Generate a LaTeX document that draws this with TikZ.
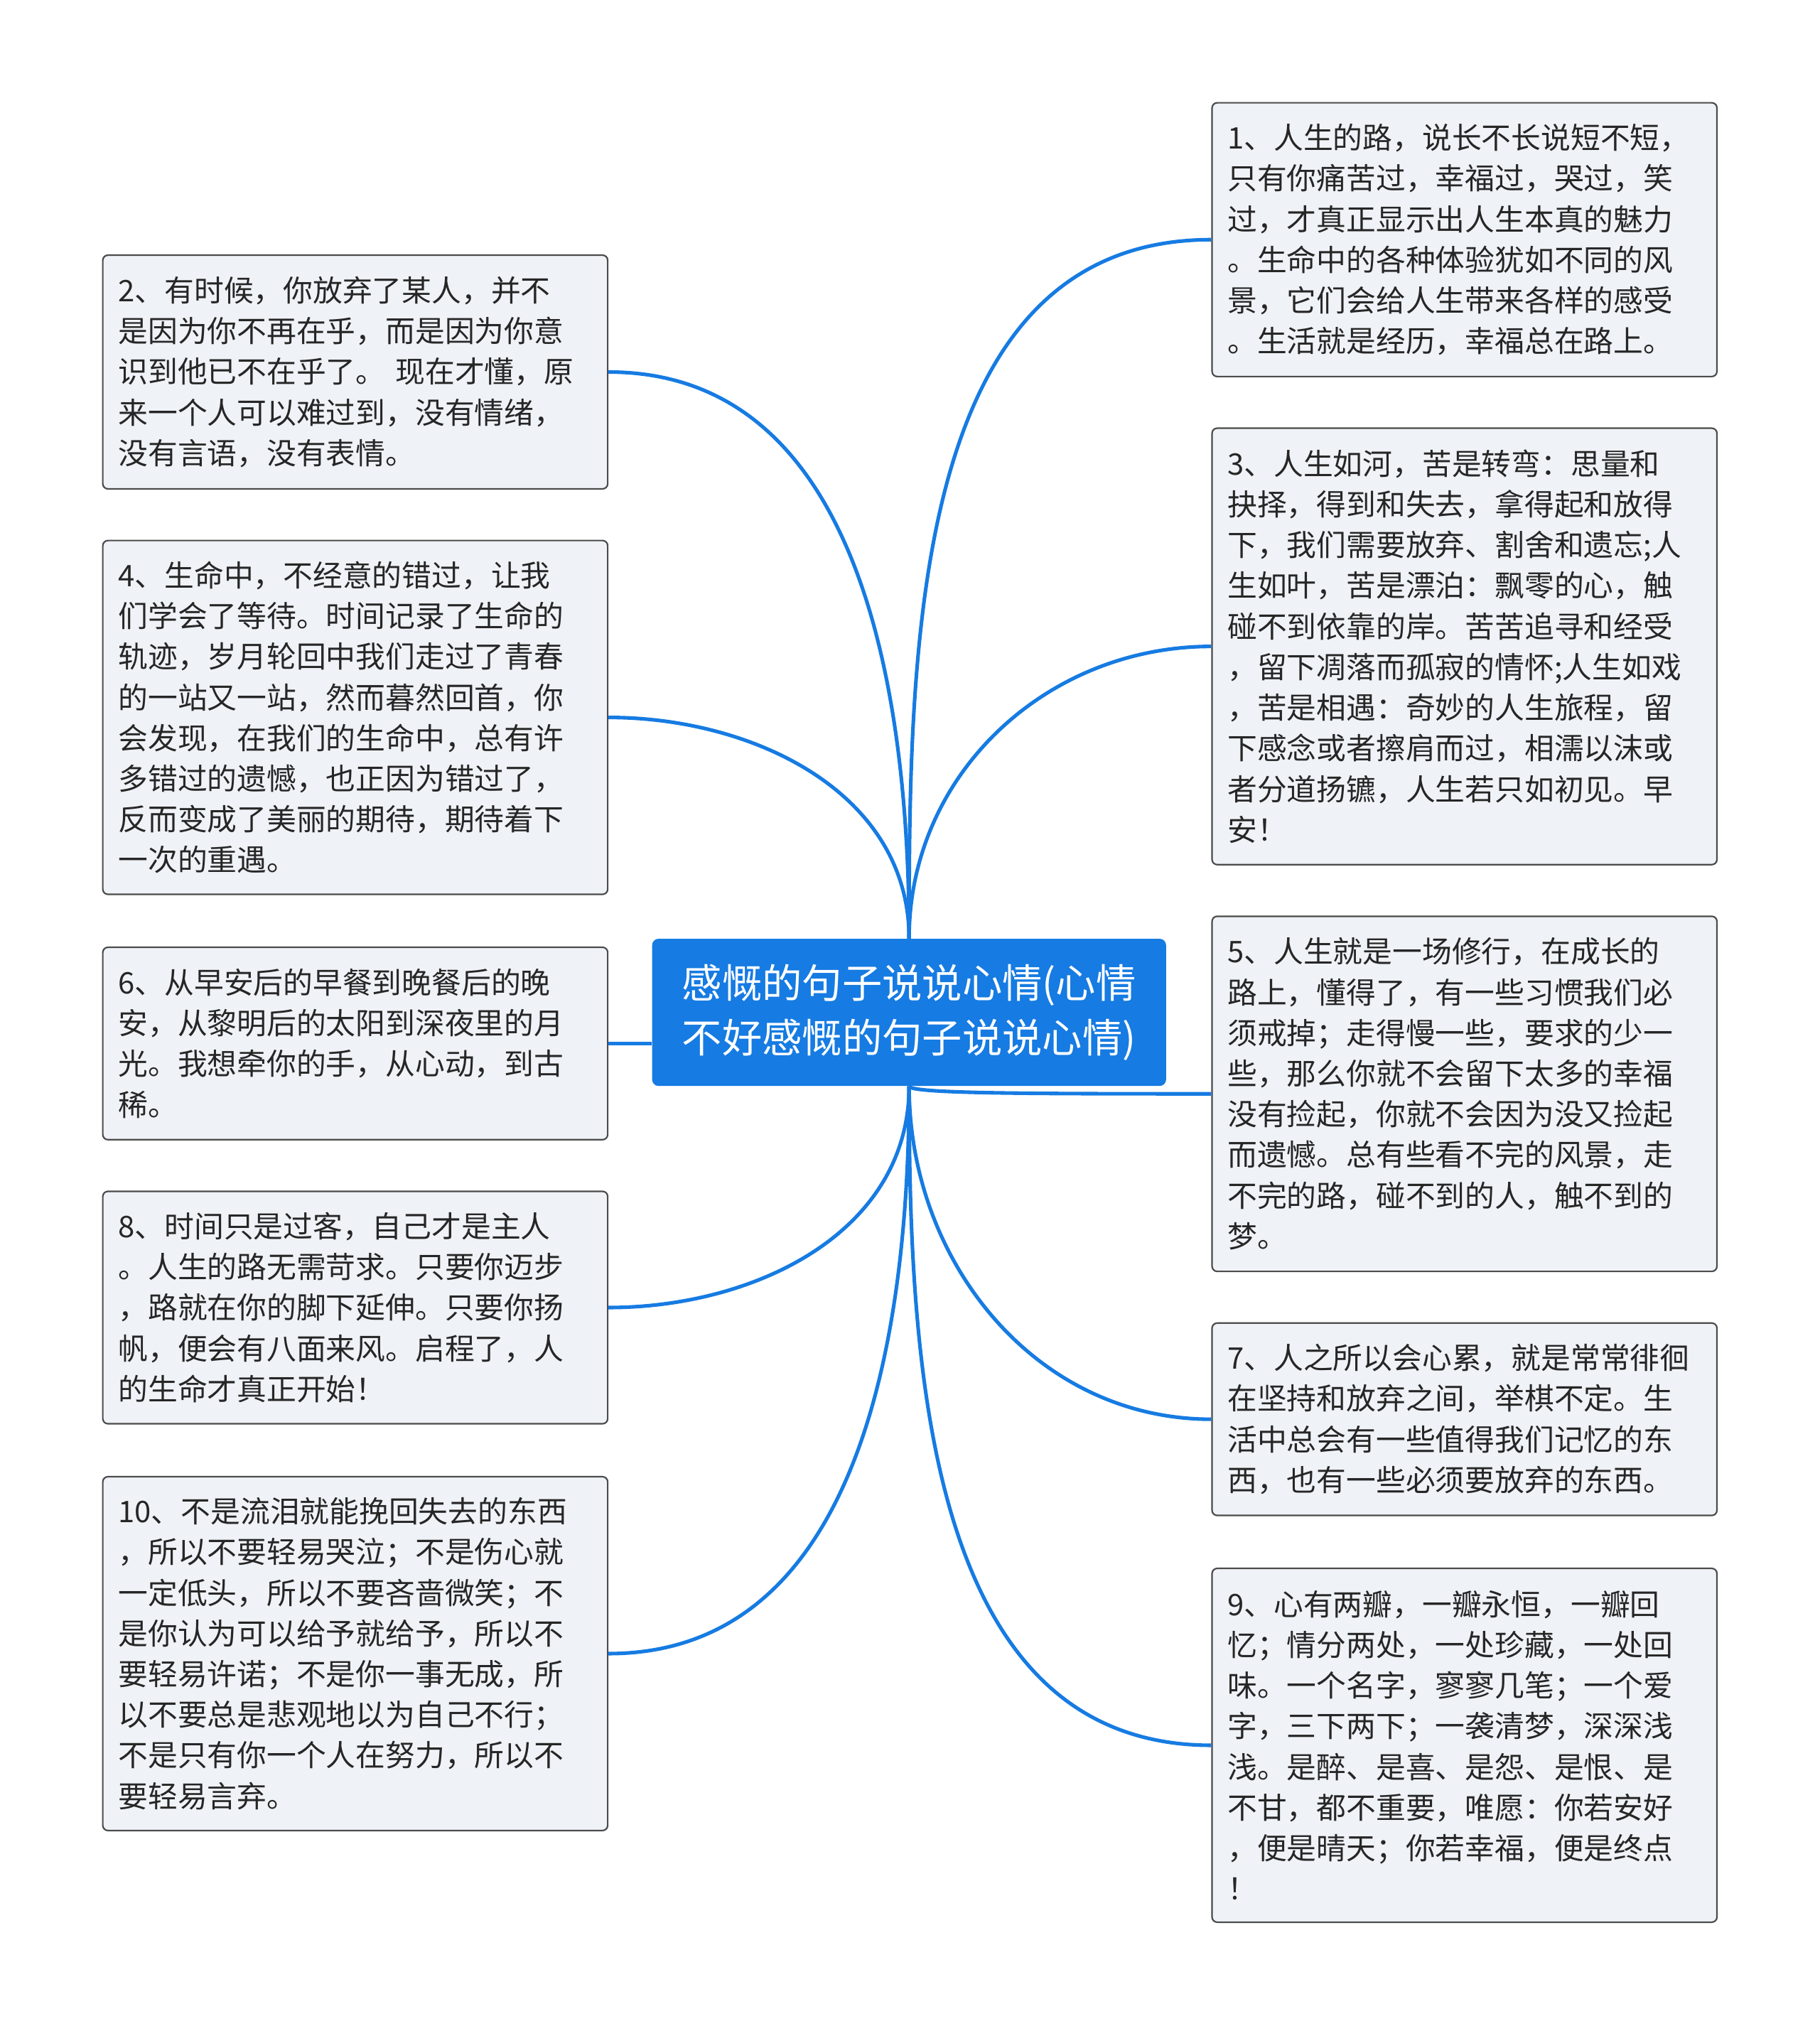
\documentclass[tikz,border=0pt]{standalone}
\usepackage{fontspec}
\setmainfont{Noto Sans CJK SC}
\begin{document}
\begin{tikzpicture}[x=1pt,y=-1pt,
  box/.style={draw=black!70,line width=1.2pt,fill=boxfill,rounded corners=4pt,anchor=north west,minimum width=391pt,text width=367pt,inner xsep=12pt,align=left,font=\fontsize{23}{31.5}\selectfont,text=black!85},
  link/.style={draw=mblue,line width=2.8pt}]
\definecolor{mblue}{RGB}{22,123,226}
\definecolor{boxfill}{RGB}{239,242,246}
\useasboundingbox[fill=white] (0,0) rectangle (1409,1569);
\node[fill=mblue,rounded corners=5pt,minimum width=398pt,minimum height=114pt,text=white,align=center,font=\fontsize{31}{42}\selectfont] (c) at (704,784) {感慨的句子说说心情(心情\\不好感慨的句子说说心情)};
\node[box,minimum height=212pt] (b1) at (938,79) {1、人生的路，说长不长说短不短，\\只有你痛苦过，幸福过，哭过，笑\\过，才真正显示出人生本真的魅力\\。生命中的各种体验犹如不同的风\\景，它们会给人生带来各样的感受\\。生活就是经历，幸福总在路上。};
\node[box,minimum height=338pt] (b3) at (938,331) {3、人生如河，苦是转弯：思量和\\抉择，得到和失去，拿得起和放得\\下，我们需要放弃、割舍和遗忘;人\\生如叶，苦是漂泊：飘零的心，触\\碰不到依靠的岸。苦苦追寻和经受\\，留下凋落而孤寂的情怀;人生如戏\\，苦是相遇：奇妙的人生旅程，留\\下感念或者擦肩而过，相濡以沫或\\者分道扬镳，人生若只如初见。早\\安！};
\node[box,minimum height=275pt] (b5) at (938,709) {5、人生就是一场修行，在成长的\\路上，懂得了，有一些习惯我们必\\须戒掉；走得慢一些，要求的少一\\些，那么你就不会留下太多的幸福\\没有捡起，你就不会因为没又捡起\\而遗憾。总有些看不完的风景，走\\不完的路，碰不到的人，触不到的\\梦。};
\node[box,minimum height=149pt] (b7) at (938,1024) {7、人之所以会心累，就是常常徘徊\\在坚持和放弃之间，举棋不定。生\\活中总会有一些值得我们记忆的东\\西，也有一些必须要放弃的东西。};
\node[box,minimum height=274pt] (b9) at (938,1214) {9、心有两瓣，一瓣永恒，一瓣回\\忆；情分两处，一处珍藏，一处回\\味。一个名字，寥寥几笔；一个爱\\字，三下两下；一袭清梦，深深浅\\浅。是醉、是喜、是怨、是恨、是\\不甘，都不重要，唯愿：你若安好\\，便是晴天；你若幸福，便是终点\\！};
\node[box,minimum height=181pt] (b2) at (79,197) {2、有时候，你放弃了某人，并不\\是因为你不再在乎，而是因为你意\\识到他已不在乎了。 现在才懂，原\\来一个人可以难过到，没有情绪，\\没有言语，没有表情。};
\node[box,minimum height=274pt] (b4) at (79,418) {4、生命中，不经意的错过，让我\\们学会了等待。时间记录了生命的\\轨迹，岁月轮回中我们走过了青春\\的一站又一站，然而暮然回首，你\\会发现，在我们的生命中，总有许\\多错过的遗憾，也正因为错过了，\\反而变成了美丽的期待，期待着下\\一次的重遇。};
\node[box,minimum height=149pt] (b6) at (79,733) {6、从早安后的早餐到晚餐后的晚\\安，从黎明后的太阳到深夜里的月\\光。我想牵你的手，从心动，到古\\稀。};
\node[box,minimum height=180pt] (b8) at (79,922) {8、时间只是过客，自己才是主人\\。人生的路无需苛求。只要你迈步\\，路就在你的脚下延伸。只要你扬\\帆，便会有八面来风。启程了，人\\的生命才真正开始！};
\node[box,minimum height=274pt] (b10) at (79,1143) {10、不是流泪就能挽回失去的东西\\，所以不要轻易哭泣；不是伤心就\\一定低头，所以不要吝啬微笑；不\\是你认为可以给予就给予，所以不\\要轻易许诺；不是你一事无成，所\\以不要总是悲观地以为自己不行；\\不是只有你一个人在努力，所以不\\要轻易言弃。};
\draw[link] (c.north) to[out=90,in=180] (b1.west);
\draw[link] (c.north) to[out=90,in=180] (b3.west);
\draw[link] (c.south) .. controls (705,847) and (800,847) .. (b5.west);
\draw[link] (c.south) to[out=-90,in=180] (b7.west);
\draw[link] (c.south) to[out=-90,in=180] (b9.west);
\draw[link] (c.north) to[out=90,in=0] (b2.east);
\draw[link] (c.north) to[out=90,in=0] (b4.east);
\draw[link] (b6.east) -- (c.west |- b6.east);
\draw[link] (c.south) to[out=-90,in=0] (b8.east);
\draw[link] (c.south) to[out=-90,in=0] (b10.east);
\end{tikzpicture}
\end{document}
